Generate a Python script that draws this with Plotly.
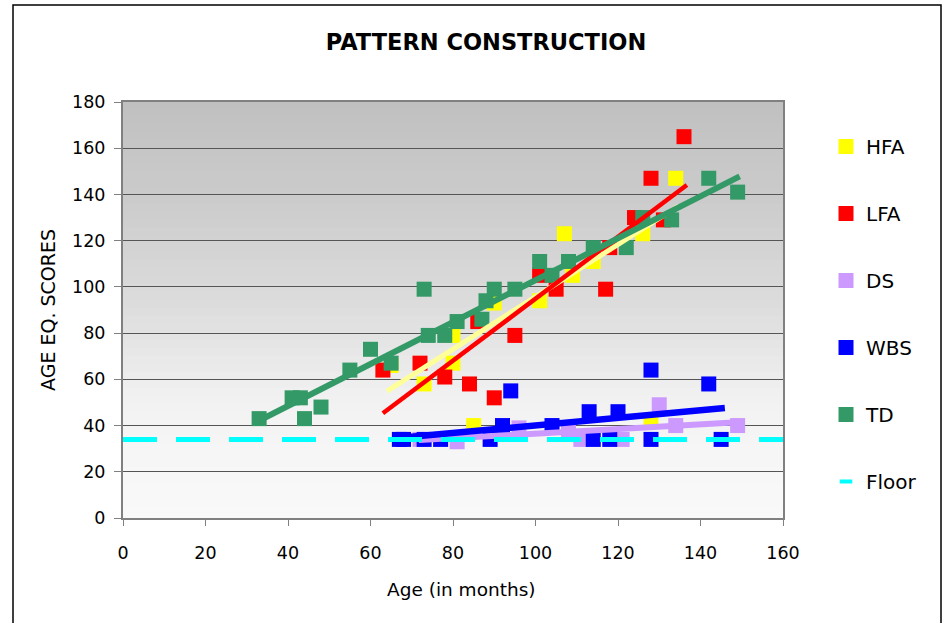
import numpy as np
import plotly.graph_objects as go

# ---- data ----
hfa_x = [65, 73, 80, 80, 85, 90, 101, 107, 109, 114, 126, 128, 134]
hfa_y = [66, 58, 67, 79, 40, 93, 94, 123, 105, 111, 123, 42, 147]

lfa_x = [63, 72, 78, 84, 86, 90, 95, 101, 105, 117, 118, 124, 128, 131, 136]
lfa_y = [64, 67, 61, 58, 85, 52, 79, 105, 99, 99, 117, 130, 147, 129, 165]

ds_x = [72, 81, 96, 108, 111, 121, 130, 134, 149]
ds_y = [34, 33, 39, 37, 34, 34, 49, 40, 40]

wbs_x = [67, 68, 73, 77, 89, 92, 94, 104, 113, 114, 118, 120, 128, 128, 142, 145]
wbs_y = [34, 34, 34, 34, 34, 40, 55, 40, 46, 34, 34, 46, 64, 34, 58, 34]

td_x = [33, 41, 43, 44, 48, 55, 60, 65, 73, 74, 78, 81, 87, 88, 90, 95, 101, 104, 108, 114, 122, 126, 133, 142, 149]
td_y = [43, 52, 52, 43, 48, 64, 73, 67, 99, 79, 79, 85, 86, 94, 99, 99, 111, 105, 111, 117, 117, 130, 129, 147, 141]

# linear trend lines as drawn in the reference (start / end)
hfa_trend_x = [64, 134.7]
hfa_trend_y = [54.9, 135.0]
lfa_trend_x = [63, 136.7]
lfa_trend_y = [45.3, 144.1]
ds_trend_x = [71.7, 149]
ds_trend_y = [33.7, 41.4]
wbs_trend_x = [66.6, 145.9]
wbs_trend_y = [34.6, 47.6]
td_trend_x = [33.3, 149.5]
td_trend_y = [42.4, 147.8]

floor_x = [0, 160]
floor_y = [34, 34]

x_ticks = [0, 20, 40, 60, 80, 100, 120, 140, 160]
y_ticks = [0, 20, 40, 60, 80, 100, 120, 140, 160, 180]

series = [
    ("HFA", hfa_x, hfa_y, "#FFFF00", hfa_trend_x, hfa_trend_y, "#FFFF99", 5),
    ("LFA", lfa_x, lfa_y, "#FF0000", lfa_trend_x, lfa_trend_y, "#FF0000", 4.5),
    ("DS", ds_x, ds_y, "#CC99FF", ds_trend_x, ds_trend_y, "#CC99FF", 6),
    ("WBS", wbs_x, wbs_y, "#0000FF", wbs_trend_x, wbs_trend_y, "#0000FF", 6.5),
    ("TD", td_x, td_y, "#339966", td_trend_x, td_trend_y, "#339966", 6),
]

fig = go.Figure()
for name, xs, ys, col, tx, ty, tcol, tw in series:
    fig.add_trace(go.Scatter(
        x=xs, y=ys, mode="markers", name=name, legendgroup=name,
        marker=dict(symbol="square", size=15, color=col, line=dict(width=0)),
    ))
for name, xs, ys, col, tx, ty, tcol, tw in series:
    fig.add_trace(go.Scatter(
        x=tx, y=ty, mode="lines", showlegend=False,
        line=dict(color=tcol, width=tw), hoverinfo="skip",
    ))
fig.add_trace(go.Scatter(
    x=floor_x, y=floor_y, mode="lines", name="Floor", legendgroup="Floor",
    showlegend=False, line=dict(color="#00FFFF", width=5, dash="34px,19px"),
    cliponaxis=False, hoverinfo="skip",
))
# legend entry for the floor: short cyan dash
fig.add_trace(go.Scatter(
    x=[None], y=[None], mode="markers", name="Floor", legendgroup="Floor",
    marker=dict(symbol="line-ew", size=9, color="#00FFFF",
                line=dict(color="#00FFFF", width=4)),
))

# gradient plot background (strips below grid)
L, R, T, B = 123, 783, 102, 518
def px2py(py):
    return (B - py) / (B - T)
stops_py = [102, 200, 310, 400, 440, 518]
stops_v = [192, 203, 221, 241, 245, 249]
shapes = []
n = 52
for k in range(n):
    y0 = T + (B - T) * k / n
    y1 = T + (B - T) * (k + 1) / n
    v = int(round(np.interp((y0 + y1) / 2, stops_py, stops_v)))
    c = f"rgb({v},{v},{v})"
    top = min(1.0, px2py(y0) + 0.006) if k > 0 else 1.0
    shapes.append(dict(type="rect", xref="paper", yref="paper", x0=0, x1=1,
                       y0=px2py(y1), y1=top, fillcolor=c,
                       line=dict(width=0), layer="below"))
# outer chart frame
shapes.append(dict(type="rect", xref="paper", yref="paper",
                   x0=(13 - L) / (R - L), x1=(941 - L) / (R - L),
                   y0=px2py(640), y1=px2py(5), line=dict(color="#000000", width=1.5),
                   fillcolor="rgba(0,0,0,0)", layer="below"))

font = "DejaVu Sans, Verdana, sans-serif"
fig.update_layout(
    width=943, height=623,
    margin=dict(l=L, r=943 - R, t=T, b=623 - B),
    paper_bgcolor="white", plot_bgcolor="rgba(0,0,0,0)",
    shapes=shapes,
    title=dict(text="<b>PATTERN CONSTRUCTION</b>", x=486 / 943, xref="container",
               y=1 - 42 / 623, yref="container", xanchor="center", yanchor="middle",
               font=dict(family=font, size=22.5, color="black")),
    xaxis=dict(range=[0, 160], tickvals=x_ticks, showgrid=False, zeroline=False,
               showline=True, linecolor="#808080", linewidth=2, mirror=True,
               ticks="outside", ticklen=6, tickcolor="#808080", tickwidth=1,
               ticklabelstandoff=12,
               tickfont=dict(family=font, size=17.5, color="black")),
    yaxis=dict(range=[0, 180], tickvals=y_ticks, showgrid=True, gridcolor="#555555", gridwidth=1.3,
               zeroline=False, showline=True, linecolor="#808080", linewidth=2, mirror=True,
               ticks="outside", ticklen=7, tickcolor="#808080", tickwidth=1,
               ticklabelstandoff=5,
               tickfont=dict(family=font, size=17.5, color="black"),
               title=dict(text="AGE EQ. SCORES", font=dict(family=font, size=19, color="black"), standoff=11)),
    annotations=[dict(text="Age (in months)", xref="paper", yref="paper",
                      x=(461 - L) / (R - L), y=px2py(589), xanchor="center", yanchor="middle",
                      showarrow=False, font=dict(family=font, size=18.5, color="black"))],
    legend=dict(x=(826 - L) / (R - L), y=px2py(127), xanchor="left", yanchor="top",
                font=dict(family=font, size=20, color="black"), tracegroupgap=38,
                bgcolor="rgba(0,0,0,0)", itemwidth=30),
    showlegend=True,
)
fig.write_html("out.html", post_script="document.body.style.margin='0';",
               config={"displayModeBar": False})
